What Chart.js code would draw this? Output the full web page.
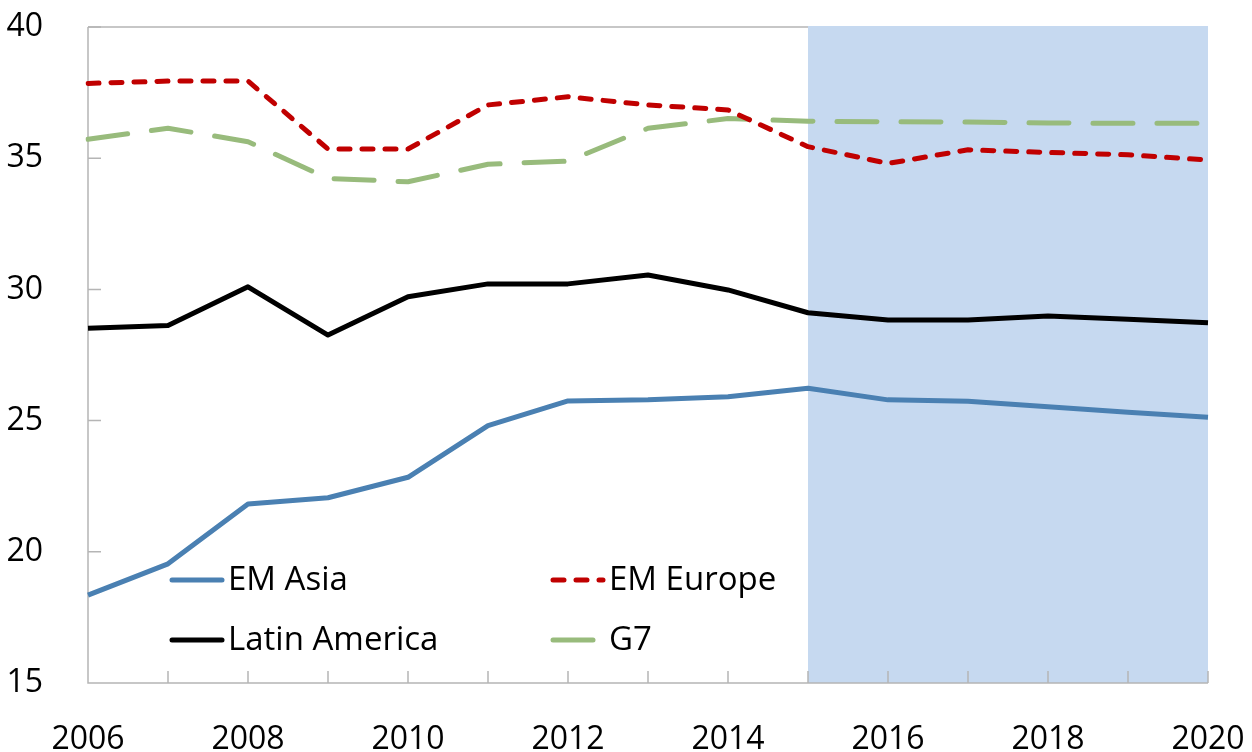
<!DOCTYPE html>
<html>
<head>
<meta charset="utf-8">
<script src="https://cdn.jsdelivr.net/npm/chart.js@4.4.0/dist/chart.umd.min.js"></script>
<style>
  html, body { margin: 0; padding: 0; background: #fff; }
  #wrap { width: 1252px; height: 752px; }
</style>
</head>
<body>
<div id="wrap"><canvas id="c"></canvas></div>
<script>
// years on the x axis
var years = ['2006', '2007', '2008', '2009', '2010', '2011', '2012', '2013',
             '2014', '2015', '2016', '2017', '2018', '2019', '2020'];
// shaded projection period
var forecastYears = ['2015', '2020'];

var emAsia = [18.35, 19.54, 21.82, 22.06, 22.84, 24.81, 25.75, 25.79,
              25.91, 26.23, 25.79, 25.74, 25.53, 25.32, 25.13];
var emEurope = [37.85, 37.94, 37.94, 35.35, 35.35, 37.03, 37.34, 37.03,
                36.84, 35.44, 34.80, 35.32, 35.22, 35.13, 34.93];
var latinAmerica = [28.52, 28.62, 30.10, 28.26, 29.72, 30.21, 30.21, 30.55,
                    29.98, 29.11, 28.83, 28.83, 28.99, 28.86, 28.73];
var g7 = [35.72, 36.14, 35.63, 34.23, 34.10, 34.77, 34.89, 36.14,
          36.51, 36.41, 36.39, 36.38, 36.34, 36.33, 36.33];

var yTicks = [15, 20, 25, 30, 35, 40];

var FONT = "'Open Sans', 'DejaVu Sans', sans-serif";
var axisGray = '#b5b5b5';

// no automatic label overhang padding, layout.padding decides the plot box
function noPad(s) {
  s.paddingTop = 0; s.paddingBottom = 0; s.paddingLeft = 0; s.paddingRight = 0;
}

// frame, shaded box and inward tick marks
var framePlugin = {
  id: 'frame',
  beforeDatasetsDraw: function (chart) {
    var ctx = chart.ctx, a = chart.chartArea;
    var x = chart.scales.x, y = chart.scales.y;
    ctx.save();
    ctx.strokeStyle = axisGray;
    ctx.lineWidth = 1.5;
    ctx.beginPath();
    ctx.moveTo(a.left, a.top);
    ctx.lineTo(a.right, a.top);
    ctx.stroke();

    var x0 = x.getPixelForValue(years.indexOf(forecastYears[0]));
    var x1 = x.getPixelForValue(years.indexOf(forecastYears[1]));
    ctx.fillStyle = '#c6d9f0';
    ctx.fillRect(x0, a.top - 1, x1 - x0, a.bottom - a.top + 1);

    ctx.beginPath();
    ctx.moveTo(a.left, a.top);
    ctx.lineTo(a.left, a.bottom);
    ctx.lineTo(a.right, a.bottom);
    yTicks.forEach(function (v) {
      var py = y.getPixelForValue(v);
      ctx.moveTo(a.left, py);
      ctx.lineTo(a.left + 13, py);
    });
    years.forEach(function (yr, i) {
      var px = x.getPixelForValue(i);
      ctx.moveTo(px, a.bottom);
      ctx.lineTo(px, a.bottom - 12);
    });
    ctx.stroke();
    ctx.restore();
  },
  afterDatasetsDraw: function (chart) {
    var ctx = chart.ctx, a = chart.chartArea;
    var cols = [a.left + 84, a.left + 465];
    var rows = [a.bottom - 103, a.bottom - 43];
    ctx.save();
    ctx.font = '33px ' + FONT;
    ctx.textBaseline = 'middle';
    ctx.textAlign = 'left';
    chart.data.datasets.forEach(function (ds, i) {
      var lx = cols[i % 2], ly = rows[Math.floor(i / 2)];
      ctx.strokeStyle = ds.borderColor;
      ctx.lineWidth = ds.borderWidth;
      ctx.lineCap = 'round';
      ctx.setLineDash(ds.borderDash || []);
      ctx.beginPath();
      ctx.moveTo(lx, ly);
      ctx.lineTo(lx + 50, ly);
      ctx.stroke();
      ctx.setLineDash([]);
      ctx.fillStyle = '#000';
      ctx.fillText(ds.label, lx + 56, ly + 1);
    });
    ctx.restore();
  }
};

new Chart(document.getElementById('c'), {
  type: 'line',
  data: {
    labels: years,
    datasets: [
      { label: 'EM Asia', data: emAsia, borderColor: '#4a80b2', borderWidth: 5 },
      { label: 'EM Europe', data: emEurope, borderColor: '#c00000', borderWidth: 5,
        borderDash: [11, 12], borderCapStyle: 'round' },
      { label: 'Latin America', data: latinAmerica, borderColor: '#000000', borderWidth: 5 },
      { label: 'G7', data: g7, borderColor: '#98bb7c', borderWidth: 5,
        borderDash: [40, 24], borderCapStyle: 'round' }
    ]
  },
  options: {
    responsive: true,
    maintainAspectRatio: false,
    animation: false,
    layout: { padding: { top: 27, right: 44, left: 0, bottom: 0 } },
    elements: {
      point: { radius: 0, hoverRadius: 0 },
      line: { tension: 0, borderJoinStyle: 'round', fill: false }
    },
    plugins: { legend: { display: false }, tooltip: { enabled: false } },
    scales: {
      x: {
        offset: false,
        grid: { display: false },
        border: { display: false },
        afterFit: function (s) { s.height = 69; noPad(s); },
        ticks: {
          autoSkip: false, maxRotation: 0, padding: 30,
          color: '#000', font: { family: FONT, size: 32 },
          callback: function (v, i) { return i % 2 === 0 ? years[i] : ''; }
        }
      },
      y: {
        min: 15, max: 40,
        grid: { display: false },
        border: { display: false },
        afterFit: function (s) { s.width = 88; noPad(s); },
        ticks: {
          stepSize: 5, padding: 37,
          color: '#000', font: { family: FONT, size: 32 }
        }
      }
    }
  },
  plugins: [framePlugin]
});
</script>
</body>
</html>
